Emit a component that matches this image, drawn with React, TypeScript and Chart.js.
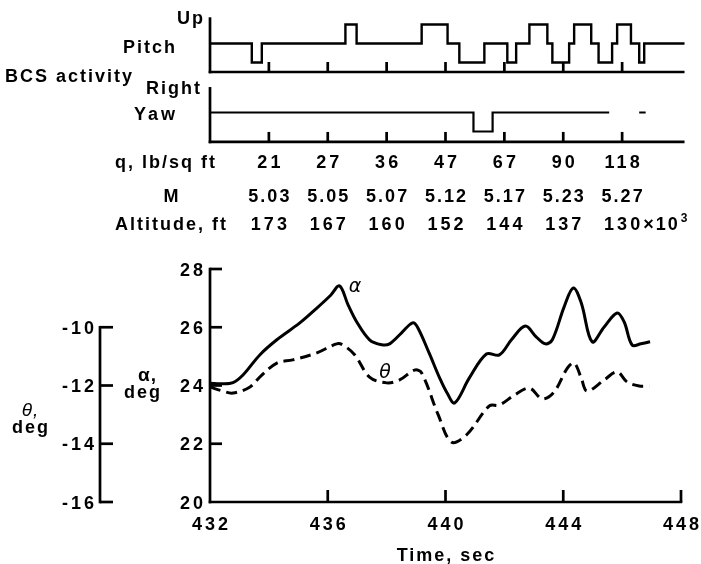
import React, { useEffect, useRef } from 'react';
import { Chart, registerables } from 'chart.js';

Chart.register(...registerables);

// ---------- data ----------
const alphaTime = [432.0, 432.4, 432.78, 433.12, 433.69, 434.27, 435.05, 435.63, 436.1, 436.4, 436.69, 436.98, 437.42, 437.83, 438.1, 438.5, 438.88, 439.05, 439.45, 439.8, 440.05, 440.31, 440.81, 441.39, 441.83, 442.24, 442.71, 443.08, 443.39, 443.63, 444.03, 444.34, 444.61, 444.98, 445.39, 445.83, 446.07, 446.34, 446.64, 446.95];
const alphaDeg = [24.08, 24.06, 24.1, 24.36, 25.05, 25.57, 26.15, 26.66, 27.1, 27.42, 26.77, 26.19, 25.57, 25.4, 25.43, 25.8, 26.15, 26.0, 25.1, 24.26, 23.75, 23.4, 24.26, 25.08, 25.05, 25.57, 26.04, 25.67, 25.43, 25.57, 26.7, 27.35, 26.84, 25.5, 26.01, 26.49, 26.18, 25.39, 25.43, 25.5];

const thetaTime = [432.0, 432.4, 432.78, 433.36, 433.69, 434.27, 434.81, 435.63, 436.3, 436.5, 436.92, 437.42, 438.0, 438.44, 438.95, 439.19, 439.75, 440.2, 440.71, 441.49, 441.83, 442.34, 442.85, 443.29, 443.69, 444.14, 444.37, 444.61, 444.81, 445.39, 445.83, 446.17, 446.58, 446.92];
const thetaDeg = [-12.05, -12.18, -12.26, -12.05, -11.71, -11.23, -11.12, -10.88, -10.57, -10.6, -10.95, -11.71, -11.91, -11.81, -11.47, -11.57, -13.0, -13.94, -13.7, -12.7, -12.67, -12.33, -12.09, -12.46, -12.22, -11.4, -11.23, -11.74, -12.19, -11.81, -11.53, -11.88, -12.02, -12.02];

// BCS pulses (time on, time off, direction)
const pitchStart = [433.42, 436.6, 439.19, 440.47, 442.1, 442.85, 443.63, 444.37, 445.2, 445.83, 446.58];
const pitchEnd = [433.76, 436.98, 440.07, 441.32, 442.4, 443.46, 444.2, 444.95, 445.66, 446.3, 446.75];
const pitchDir = [-1, 1, 1, -1, -1, 1, -1, 1, -1, 1, -1];
const pitchTraceEnd = 448.12;

const yawStart = [440.95];
const yawEnd = [441.6];
const yawDir = [-1];
const yawTraceEnd = 445.56;
const yawMarkStart = 446.58;
const yawMarkEnd = 446.8;

// ticks & table
const timeTicks = [432, 436, 440, 444, 448];
const alphaTicks = [20, 22, 24, 26, 28];
const thetaTicks = [-10, -12, -14, -16];
const panelTicks = [434, 436, 438, 440, 442, 444, 446];
const qValues = ['21', '27', '36', '47', '67', '90', '118'];
const machValues = ['5.03', '5.05', '5.07', '5.12', '5.17', '5.23', '5.27'];
const altitudeValues = ['173', '167', '160', '152', '144', '137', '130'];

// ---------- layout ----------
const W = 701;
const H = 564;
const AREA_TOP = 17;
const AREA_BOTTOM = 502;
const AREA_LEFT = 210;
const AREA_RIGHT = 681;
const SPAN = AREA_BOTTOM - AREA_TOP;

function rangeFor(centerValue: number, centerPx: number, pxPerUnit: number) {
  const min = centerValue - (AREA_BOTTOM - centerPx) / pxPerUnit;
  return { min, max: min + SPAN / pxPerUnit };
}
const alphaPx = (502 - 269) / 8;
const alphaRange = rangeFor(20, 502, alphaPx);
const thetaRange = rangeFor(-16, 502, alphaPx);
const pulsePx = 19;
const pitchRange = rangeFor(0, 43.5, pulsePx);
const yawRange = rangeFor(0, 112.5, pulsePx);
const PITCH_TOP = 1.38;
const PITCH_BOTTOM = -1.5;
const YAW_TOP = 1.34;
const YAW_BOTTOM = -1.55;

function pulseTrace(start: number[], end: number[], dir: number[], tEnd: number) {
  const pts: { x: number; y: number | null }[] = [{ x: 432, y: 0 }];
  start.forEach((s, i) => {
    pts.push({ x: s, y: 0 }, { x: s, y: dir[i] }, { x: end[i], y: dir[i] }, { x: end[i], y: 0 });
  });
  pts.push({ x: tEnd, y: 0 });
  return pts;
}

const FONT = "'Liberation Sans', Arial, sans-serif";

const overlay = {
  id: 'overlay',
  beforeDraw(chart: any) {
    const ctx = chart.ctx;
    ctx.save();
    ctx.fillStyle = '#fff';
    ctx.fillRect(0, 0, chart.width, chart.height);
    ctx.restore();
  },
  afterDraw(chart: any) {
    const ctx = chart.ctx as CanvasRenderingContext2D;
    const sx = chart.scales.x;
    const sa = chart.scales.yA;
    const st = chart.scales.yT;
    const sp = chart.scales.yP;
    const sy = chart.scales.yY;
    const X = (v: number) => sx.getPixelForValue(v);
    ctx.save();
    ctx.strokeStyle = '#000';
    ctx.fillStyle = '#000';
    ctx.lineWidth = 2.7;
    ctx.lineCap = 'butt';
    const line = (x1: number, y1: number, x2: number, y2: number) => {
      ctx.beginPath();
      ctx.moveTo(x1, y1);
      ctx.lineTo(x2, y2);
      ctx.stroke();
    };
    const text = (s: string, x: number, y: number, align: CanvasTextAlign, font: string, spacing = 0) => {
      ctx.font = font;
      (ctx as any).letterSpacing = spacing + 'px';
      ctx.textAlign = align;
      ctx.textBaseline = 'alphabetic';
      let xx = x;
      if (align === 'center') xx += spacing / 2;
      if (align === 'right') xx += spacing;
      ctx.fillText(s, xx, y);
      (ctx as any).letterSpacing = '0px';
    };
    const bold = `bold 18px ${FONT}`;

    // pitch / yaw panels
    const x0 = X(432);
    const panelEnd = X(448.12);
    [[sp, PITCH_TOP, PITCH_BOTTOM], [sy, YAW_TOP, YAW_BOTTOM]].forEach(([sc, top, bot]: any) => {
      const yt = sc.getPixelForValue(top);
      const yb = sc.getPixelForValue(bot);
      line(x0, yt, x0, yb + 1.3);
      line(x0 - 1.3, yb, panelEnd, yb);
      panelTicks.forEach((t) => line(X(t), yb, X(t), yb - 10));
    });

    // main axes
    const yBot = sa.getPixelForValue(20);
    const yTop = sa.getPixelForValue(28);
    line(x0, yTop - 1.3, x0, yBot + 1.3);
    line(x0 - 1.3, yBot, X(448) + 1.3, yBot);
    alphaTicks.forEach((v) => {
      const py = sa.getPixelForValue(v);
      if (v !== 20) line(x0, py, x0 + 12, py);
      text(String(v), 203, py + 6.5, 'right', bold, 3);
    });
    timeTicks.forEach((t) => {
      if (t !== 432) line(X(t), yBot, X(t), yBot - 12);
      text(String(t), X(t), 530, 'center', bold, 3);
    });
    text('Time, sec', X(440), 561, 'center', bold, 2);

    // theta axis
    const tx = 100;
    const tTop = st.getPixelForValue(-10);
    const tBot = st.getPixelForValue(-16);
    line(tx, tTop - 1.3, tx, tBot + 1.3);
    thetaTicks.forEach((v) => {
      const py = st.getPixelForValue(v);
      line(tx, py, tx + 13, py);
      text(String(v), 94, py + 6.5, 'right', bold, 3);
    });

    // axis titles
    text('α,', 147, 381, 'center', `bold 19px ${FONT}`, 1);
    text('deg', 142, 398, 'center', bold, 2);
    text('θ,', 30, 416, 'center', `italic 19px ${FONT}`, 1);
    text('deg', 30, 433, 'center', bold, 2);

    // curve labels
    text('α', 355, 292, 'center', `italic 19px 'DejaVu Sans', sans-serif`);
    text('θ', 385, 378, 'center', `italic 19px 'DejaVu Sans', sans-serif`);

    // BCS labels
    text('Up', 203, 24, 'right', bold, 2);
    text('Pitch', 175, 53, 'right', bold, 2);
    text('BCS activity', 5, 82, 'left', bold, 2);
    text('Right', 200, 94, 'right', bold, 2);
    text('Yaw', 175, 120, 'right', bold, 3);

    // table
    text('q, lb/sq ft', 115, 168, 'left', bold, 2);
    text('M', 171, 201.5, 'center', bold, 2);
    text('Altitude, ft', 115, 230, 'left', bold, 2);
    panelTicks.forEach((t, i) => {
      const cx = X(t);
      text(qValues[i], cx, 168, 'center', bold, 3);
      text(machValues[i], cx, 201.5, 'center', bold, 2);
      if (i < altitudeValues.length - 1) {
        text(altitudeValues[i], cx, 230, 'center', bold, 3);
      } else {
        ctx.font = bold;
        (ctx as any).letterSpacing = '3px';
        const w = ctx.measureText(altitudeValues[i]).width;
        (ctx as any).letterSpacing = '0px';
        const left = cx - w / 2 + 1.5;
        text(altitudeValues[i], left, 230, 'left', bold, 3);
        text('×10', left + w, 230, 'left', bold, 2);
        ctx.font = bold;
        (ctx as any).letterSpacing = '2px';
        const w2 = ctx.measureText('×10').width;
        (ctx as any).letterSpacing = '0px';
        text('3', left + w + w2 + 1, 222, 'left', `bold 12px ${FONT}`);
      }
    });
    ctx.restore();
  },
};

export default function App() {
  const ref = useRef<HTMLCanvasElement | null>(null);
  useEffect(() => {
    if (!ref.current) return;
    const yawPts = pulseTrace(yawStart, yawEnd, yawDir, yawTraceEnd);
    yawPts.push({ x: (yawTraceEnd + yawMarkStart) / 2, y: null }, { x: yawMarkStart, y: 0 }, { x: yawMarkEnd, y: 0 });
    const chart = new Chart(ref.current, {
      type: 'line',
      data: {
        datasets: [
          {
            label: 'α',
            data: alphaTime.map((t, i) => ({ x: t, y: alphaDeg[i] })),
            yAxisID: 'yA',
            borderColor: '#000',
            borderWidth: 3,
            pointRadius: 0,
            tension: 0.35,
            fill: false,
          },
          {
            label: 'θ',
            data: thetaTime.map((t, i) => ({ x: t, y: thetaDeg[i] })),
            yAxisID: 'yT',
            borderColor: '#000',
            borderWidth: 3,
            borderDash: [11, 6],
            pointRadius: 0,
            tension: 0.35,
            fill: false,
          },
          {
            label: 'Pitch',
            data: pulseTrace(pitchStart, pitchEnd, pitchDir, pitchTraceEnd),
            yAxisID: 'yP',
            borderColor: '#000',
            borderWidth: 2.4,
            pointRadius: 0,
            tension: 0,
            clip: false,
          },
          {
            label: 'Yaw',
            data: yawPts,
            yAxisID: 'yY',
            borderColor: '#000',
            borderWidth: 2.2,
            pointRadius: 0,
            tension: 0,
            spanGaps: false,
            clip: false,
          },
        ] as any,
      },
      options: {
        responsive: false,
        animation: false,
        devicePixelRatio: 1,
        events: [],
        layout: { padding: { left: AREA_LEFT, right: W - AREA_RIGHT, top: AREA_TOP, bottom: H - AREA_BOTTOM } },
        plugins: { legend: { display: false }, tooltip: { enabled: false } },
        scales: {
          x: { type: 'linear', min: 432, max: 448, display: false },
          yA: { type: 'linear', min: alphaRange.min, max: alphaRange.max, display: false },
          yT: { type: 'linear', min: thetaRange.min, max: thetaRange.max, display: false },
          yP: { type: 'linear', min: pitchRange.min, max: pitchRange.max, display: false },
          yY: { type: 'linear', min: yawRange.min, max: yawRange.max, display: false },
        },
      } as any,
      plugins: [overlay],
    });
    return () => chart.destroy();
  }, []);
  return (
    <div style={{ position: 'absolute', left: 0, top: 0, width: W, height: H, background: '#fff' }}>
      <canvas ref={ref} width={W} height={H} style={{ display: 'block', width: W, height: H }} />
    </div>
  );
}
